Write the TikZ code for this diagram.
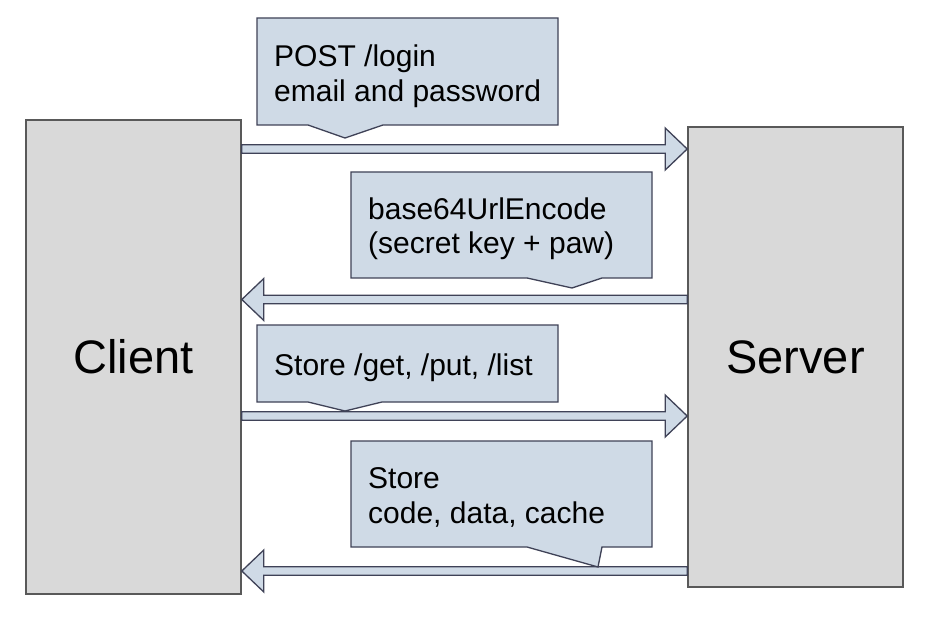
\documentclass[tikz,border=0pt]{standalone}
\usepackage{fontspec}
\setmainfont{Liberation Sans}
\usetikzlibrary{calc}
\definecolor{boxfill}{HTML}{D9D9D9}
\definecolor{boxline}{HTML}{595959}
\definecolor{callfill}{HTML}{CFDAE6}
\definecolor{callline}{HTML}{3F4257}
\tikzset{
  party/.style={draw=boxline, line width=1.6pt, fill=boxfill, minimum width=215pt, inner sep=0pt,
    font=\fontsize{47}{54}\selectfont},
  callbox/.style={draw=callline, line width=1.3pt, fill=callfill, line join=miter},
  calltext/.style={anchor=base west, inner sep=0pt, font=\fontsize{30}{34.5}\selectfont},
  fatarrow/.style={draw=callline, line width=1.3pt, fill=callfill, line join=miter}
}
\newcommand{\rarrow}[2]{% start, end coordinates
  \draw[fatarrow] ($(#1)+(0,-4.2)$) -- ($(#2)+(-22,-4.2)$) -- ($(#2)+(-22,-21)$) -- (#2)
    -- ($(#2)+(-22,21)$) -- ($(#2)+(-22,4.2)$) -- ($(#1)+(0,4.2)$) -- cycle;}
\newcommand{\larrow}[2]{% start (right), end tip (left)
  \draw[fatarrow] ($(#1)+(0,-4.2)$) -- ($(#2)+(22,-4.2)$) -- ($(#2)+(22,-21)$) -- (#2)
    -- ($(#2)+(22,21)$) -- ($(#2)+(22,4.2)$) -- ($(#1)+(0,4.2)$) -- cycle;}
\begin{document}
\begin{tikzpicture}[x=1pt,y=-1pt]
\useasboundingbox (0,0) rectangle (950,620);
\fill[white] (0,0) rectangle (950,620);

% participants
\node[party, minimum height=474pt] (client) at (133.5,357) {Client};
\node[party, minimum height=460pt] (server) at (795.5,357) {Server};

% arrow end points
\coordinate (a1s) at (client.east |- 0,149);
\coordinate (a1e) at (server.west |- 0,149);
\coordinate (a2s) at (server.west |- 0,299.5);
\coordinate (a2e) at (client.east |- 0,299.5);
\coordinate (a3s) at (client.east |- 0,416);
\coordinate (a3e) at (server.west |- 0,416);
\coordinate (a4s) at (server.west |- 0,571);
\coordinate (a4e) at (client.east |- 0,571);

\rarrow{a1s}{a1e}
\larrow{a2s}{a2e}
\rarrow{a3s}{a3e}
\larrow{a4s}{a4e}

% callouts
\draw[callbox] (257,18) -- (558,18) -- (558,125) -- (383,125) -- (345,138) -- (308,125) -- (257,125) -- cycle;
\node[calltext] (c1a) at (274,67) {POST /login};
\node[calltext] (c1b) at (274,101.5) {email and password};

\draw[callbox] (351,172) -- (652,172) -- (652,278) -- (602,278) -- (572,288) -- (527,278) -- (351,278) -- cycle;
\node[calltext] (c2a) at (368,219.5) {base64UrlEncode};
\node[calltext] (c2b) at (368,254) {(secret key + paw)};

\draw[callbox] (257,325) -- (558,325) -- (558,402) -- (382,402) -- (345,411) -- (308,402) -- (257,402) -- cycle;
\node[calltext] (c3a) at (274,375.5) {Store /get, /put, /list};

\draw[callbox] (351,441) -- (652,441) -- (652,547) -- (602,547) -- (598,567) -- (527,547) -- (351,547) -- cycle;
\node[calltext] (c4a) at (368,488.5) {Store};
\node[calltext] (c4b) at (368,523) {code, data, cache};
\end{tikzpicture}
\end{document}
